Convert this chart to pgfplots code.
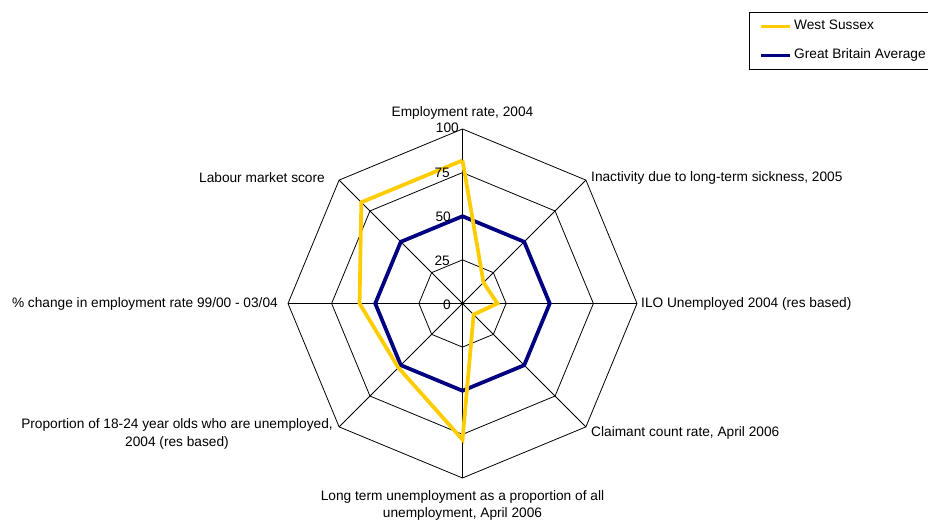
\documentclass[border=0pt]{standalone}
\usepackage{pgfplots}
\pgfplotsset{compat=1.18}
\usepgfplotslibrary{polar}
\usepackage{fontspec}
\setmainfont{Liberation Sans}
\definecolor{wsyellow}{HTML}{FFCC00}
\definecolor{gbnavy}{HTML}{000080}
\begin{document}
\begin{tikzpicture}[x=1bp,y=1bp,
  every node/.append style={font=\fontsize{13.7bp}{17.7bp}\selectfont, inner sep=0pt}]
\path[use as bounding box] (0,0) rectangle (928,521);
\begin{polaraxis}[
  at={(462.5bp,217.5bp)}, anchor=origin,
  scale only axis, width=349bp, height=349bp,
  xmin=0, xmax=360, ymin=0, ymax=100,
  hide axis, clip=false,
  reverse legend,
  legend cell align=left,
  legend image code/.code={\path (0bp,0bp); \draw[#1] (8bp,0bp) -- (37bp,0bp);},
  legend style={at={(1.321,1.335)}, anchor=north west, draw=black, line width=0.8bp,
    inner xsep=2bp, inner ysep=7.5bp, row sep=16bp, column sep=0bp,
    nodes={inner xsep=2bp, inner ysep=0bp, text height=10bp, text depth=3bp,
      font=\fontsize{13.7bp}{17.7bp}\selectfont}},
]
% grid octagons
\addplot[black, line width=0.8bp, forget plot] coordinates {(0,25)(45,25)(90,25)(135,25)(180,25)(225,25)(270,25)(315,25)(360,25)};
\addplot[black, line width=0.8bp, forget plot] coordinates {(0,50)(45,50)(90,50)(135,50)(180,50)(225,50)(270,50)(315,50)(360,50)};
\addplot[black, line width=0.8bp, forget plot] coordinates {(0,75)(45,75)(90,75)(135,75)(180,75)(225,75)(270,75)(315,75)(360,75)};
\addplot[black, line width=0.8bp, forget plot] coordinates {(0,100)(45,100)(90,100)(135,100)(180,100)(225,100)(270,100)(315,100)(360,100)};
% spokes
\addplot[black, line width=0.8bp, forget plot] coordinates {(0,100)(180,100)};
\addplot[black, line width=0.8bp, forget plot] coordinates {(45,100)(225,100)};
\addplot[black, line width=0.8bp, forget plot] coordinates {(90,100)(270,100)};
\addplot[black, line width=0.8bp, forget plot] coordinates {(135,100)(315,100)};
\addplot[black, only marks, mark=*, mark size=1.5bp, forget plot] coordinates {(0,0)};
% series
\addplot[gbnavy, line width=3.75bp, line join=miter] coordinates {(90,50)(45,50)(0,50)(315,50)(270,50)(225,50)(180,50)(135,50)(90,50)};
\addlegendentry{Great Britain Average}
\addplot[wsyellow, line width=3.75bp, line join=miter] coordinates {(90,82)(45,17)(0,20)(315,9)(270,78)(225,52)(180,59)(135,82)(90,82)};
\addlegendentry{West Sussex}
\end{polaraxis}
% tick labels
\node[anchor=base east] at (459,388) {100};
\node[anchor=base east] at (450,343) {75};
\node[anchor=base east] at (451,299.4) {50};
\node[anchor=base east] at (450,255.4) {25};
\node[anchor=base east] at (451,211.8) {0};
% category labels
\node[anchor=base] at (462.5,404) {Employment rate, 2004};
\node[anchor=base west] at (591,339) {Inactivity due to long-term sickness, 2005};
\node[anchor=base west] at (641,213) {ILO Unemployed 2004 (res based)};
\node[anchor=base west] at (591,84) {Claimant count rate, April 2006};
\node[anchor=base] at (462.5,20.8) {Long term unemployment as a proportion of all};
\node[anchor=base] at (462.5,3.4) {unemployment, April 2006};
\node[anchor=base] at (177,92) {Proportion of 18-24 year olds who are unemployed,};
\node[anchor=base] at (177,74.3) {2004 (res based)};
\node[anchor=base east] at (278,213) {\% change in employment rate 99/00 - 03/04};
\node[anchor=base east] at (325,338) {Labour market score};
\end{tikzpicture}
\end{document}
